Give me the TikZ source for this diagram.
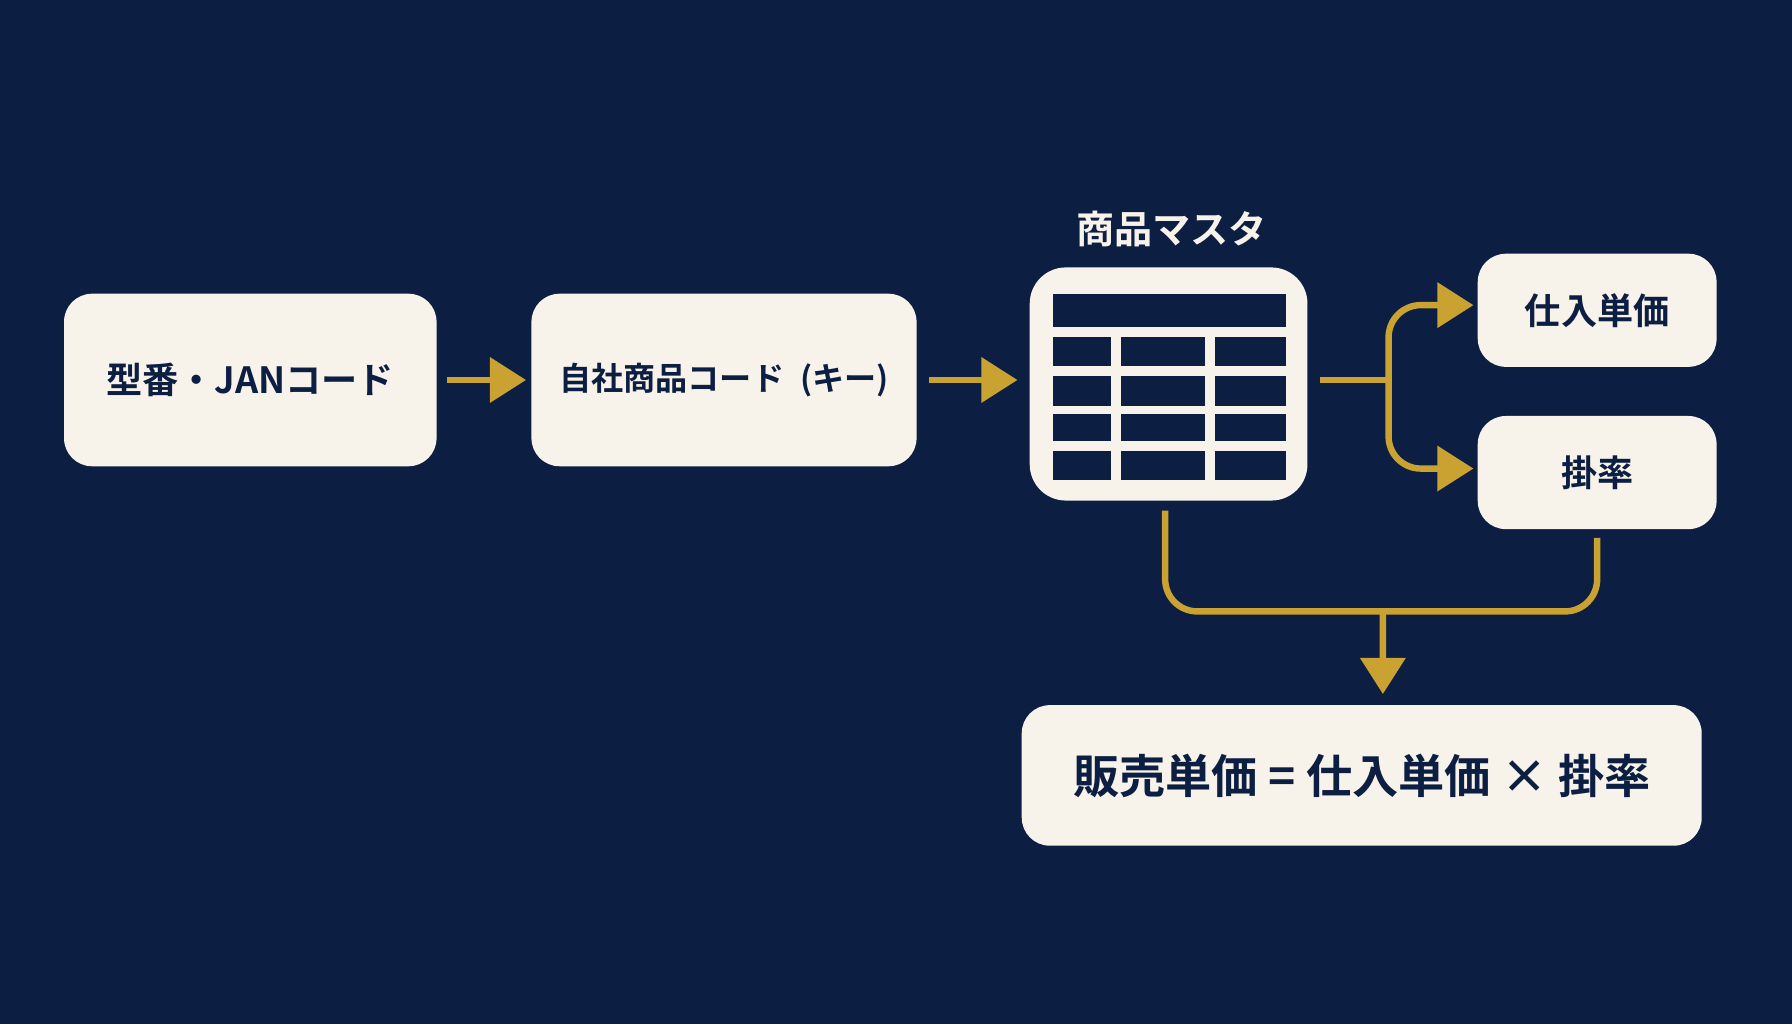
\documentclass[tikz,border=0pt]{standalone}
\usepackage{fontspec}
\setmainfont{Noto Sans CJK JP}[BoldFont={Noto Sans CJK JP Bold}]
\usetikzlibrary{arrows.meta}
\usetikzlibrary{positioning,calc}
\definecolor{navy}{HTML}{0C1E42}
\definecolor{cream}{HTML}{F7F3EA}
\definecolor{gold}{HTML}{C9A232}
\tikzset{
  card/.style={fill=cream, rounded corners=7pt, text=navy, font=\bfseries\fontsize{9}{11}\selectfont, inner sep=0pt},
  flow/.style={draw=gold, line width=1.6pt, -{Triangle[length=9pt,width=11pt]}},
  link/.style={draw=gold, line width=1.6pt, rounded corners=8pt},
  cell/.style={fill=navy}
}
\begin{document}
\begin{tikzpicture}[x=1cm,y=-1cm]
\useasboundingbox[fill=navy] (0,0) rectangle (15.68,8.96);
\node[card, minimum width=3.26cm, minimum height=1.51cm] (jan) at (2.19,3.325) {型番・JANコード};
\node[card, minimum width=3.37cm, minimum height=1.51cm, font=\bfseries\fontsize{8}{10}\selectfont] (key) at (6.335,3.325) {自社商品コード\hspace{0.5em}(キー)};
\node[card, minimum width=2.43cm, minimum height=2.04cm, rounded corners=9pt] (master) at (10.225,3.36) {};
\node[text=cream, font=\bfseries\fontsize{9.5}{11}\selectfont] (title) at (10.25,2.0) {商品マスタ};
% table cells
\fill[cell] (9.21,2.57) rectangle (11.25,2.86);
\foreach \ya/\yb in {2.95/3.20, 3.29/3.55, 3.62/3.86, 3.95/4.20} {
  \fill[cell] (9.21,\ya) rectangle (9.72,\yb);
  \fill[cell] (9.81,\ya) rectangle (10.54,\yb);
  \fill[cell] (10.63,\ya) rectangle (11.25,\yb);
}
\node[card, minimum width=2.09cm, minimum height=0.99cm] (cost) at (13.975,2.715) {仕入単価};
\node[card, minimum width=2.09cm, minimum height=0.99cm] (rate) at (13.975,4.135) {掛率};
\node[card, minimum width=5.95cm, minimum height=1.23cm, font=\bfseries\fontsize{11.5}{13}\selectfont] (price) at (11.915,6.785) {販売単価 = 仕入単価 × 掛率};
\draw[flow] ($(jan.east)+(0.08,0)$) -- ($(key.west)+(-0.04,0)$);
\draw[flow] ($(key.east)+(0.1,0)$) -- ($(key.east -| master.west)+(-0.1,0)$);
\coordinate (split) at (12.15,3.325);
\draw[link] ($(split -| master.east)+(0.1,0)$) -- (split);
\draw[flow, rounded corners=8pt] (split) |- ($(cost.west)+(-0.03,-0.045)$);
\draw[flow, rounded corners=8pt] (split) |- ($(rate.west)+(-0.03,-0.035)$);
\coordinate (merge) at (12.1,5.35);
\draw[link] ($(master.south)+(-0.03,0.08)$) |- (merge);
\draw[link] ($(rate.south)+(0,0.07)$) |- (merge);
\draw[flow] (merge) -- ($(price.north)+(0.185,-0.09)$);
\end{tikzpicture}
\end{document}
